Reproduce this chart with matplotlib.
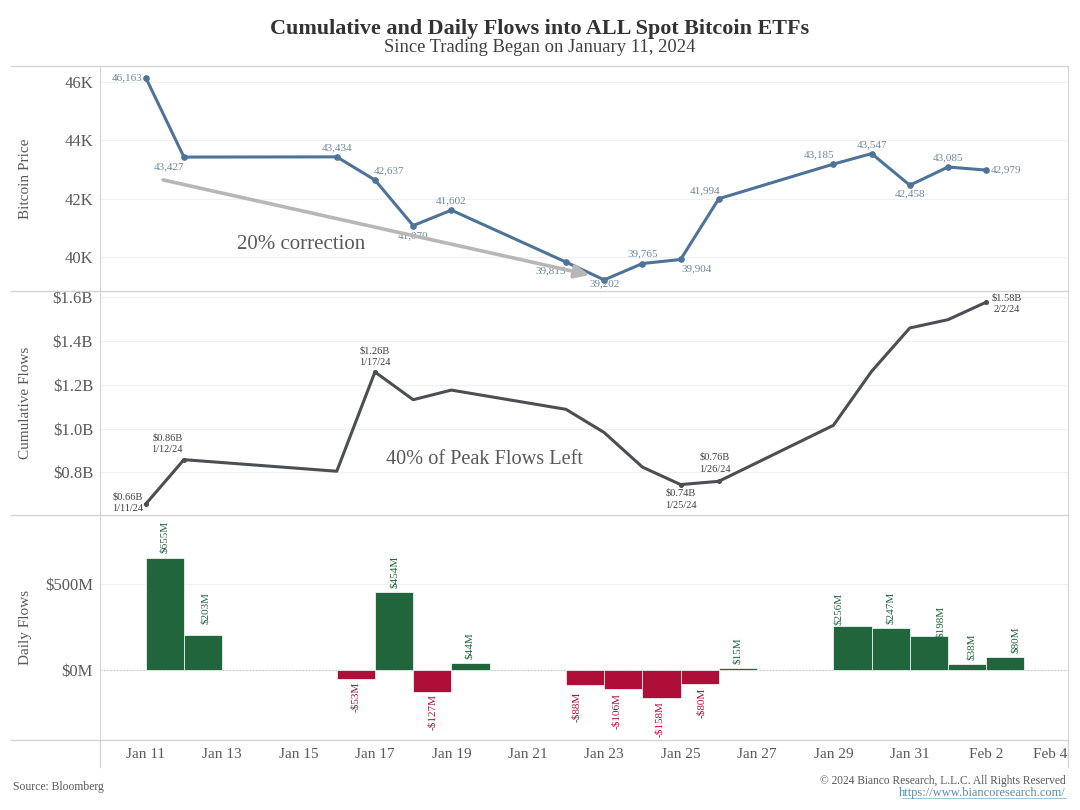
import pandas as pd
import matplotlib
matplotlib.use("Agg")
import matplotlib.pyplot as plt
import matplotlib.dates as mdates
from matplotlib.transforms import ScaledTranslation, blended_transform_factory

plt.rcParams['font.family'] = ['Liberation Serif', 'DejaVu Serif']

dates = ["2024-01-11", "2024-01-12", "2024-01-16", "2024-01-17", "2024-01-18", "2024-01-19",
         "2024-01-22", "2024-01-23", "2024-01-24", "2024-01-25", "2024-01-26",
         "2024-01-29", "2024-01-30", "2024-01-31", "2024-02-01", "2024-02-02"]
price = [46163, 43427, 43434, 42637, 41070, 41602, 39815, 39202, 39765, 39904, 41994,
         43185, 43547, 42458, 43085, 42979]
cumulative = [0.655, 0.858, 0.805, 1.259, 1.132, 1.176, 1.088, 0.982, 0.824, 0.744, 0.759,
              1.015, 1.262, 1.460, 1.498, 1.578]
daily = [655, 203, -53, 454, -127, 44, -88, -106, -158, -80, 15, 256, 247, 198, 38, 80]

price_ticks = [40000, 42000, 44000, 46000]
price_ticklabels = ["40K", "42K", "44K", "46K"]
cum_ticks = [0.8, 1.0, 1.2, 1.4, 1.6]
cum_ticklabels = ["$0.8B", "$1.0B", "$1.2B", "$1.4B", "$1.6B"]
daily_ticks = [0, 500]
daily_ticklabels = ["$0M", "$500M"]
x_tick_dates = ["2024-01-11", "2024-01-13", "2024-01-15", "2024-01-17", "2024-01-19", "2024-01-21",
                "2024-01-23", "2024-01-25", "2024-01-27", "2024-01-29", "2024-01-31",
                "2024-02-02", "2024-02-04"]
x_ticklabels = ["Jan 11", "Jan 13", "Jan 15", "Jan 17", "Jan 19", "Jan 21", "Jan 23", "Jan 25",
                "Jan 27", "Jan 29", "Jan 31", "Feb 2", "Feb 4"]

# label offsets in points, (dx, dy) from the point
price_offsets = [(-13.5, 0), (-11, -7), (0, 6.5), (10, 7), (0, -7), (0, 7), (-11, -6.5), (0, -3),
                 (0, 7), (11.5, -7), (-10, 6), (-10.5, 6.5), (0, 6), (0, -6.5), (0, 7), (14.5, 0)]
cum_labels = {"2024-01-11": ("$0.66B", "1/11/24", -13, 1), "2024-01-12": ("$0.86B", "1/12/24", -12, 11.5),
              "2024-01-17": ("$1.26B", "1/17/24", 0, 11), "2024-01-25": ("$0.74B", "1/25/24", 0, -10.5),
              "2024-01-26": ("$0.76B", "1/26/24", -3, 13), "2024-02-02": ("$1.58B", "2/2/24", 14.5, -1)}
daily_dx = [0, 2, 0, 0, 0, -1, -6, -5, -1.5, 1.5, -0.5, -10, 0, 8, 3, 7]
daily_gap = [3.4, 8, 1.4, 2.7, 1.4, 2.7, 4.3, 3.4, 2.9, 2.7, 2.4, 0.7, 2.9, -1, 2.9, 2.4]

x = pd.to_datetime(dates)
xt = pd.to_datetime(x_tick_dates)
W, H = 1080, 810
BLUE = "#4e7399"
DARK = "#4b4f54"
GREEN = "#21653c"
RED = "#ad0f38"
TXT = "#595959"
LINE = "#d4d4d4"
GRID = "#f0f0f0"


def panel(top, bottom):
    return [100 / W, 1 - bottom / H, (1068 - 100) / W, (bottom - top) / H]


fig = plt.figure(figsize=(W / 100, H / 100), dpi=100)
ax1 = fig.add_axes(panel(66, 291))
ax2 = fig.add_axes(panel(291, 515), sharex=ax1)
ax3 = fig.add_axes(panel(515, 740), sharex=ax1)

for ax, ticks, labels, name in [(ax1, price_ticks, price_ticklabels, "Bitcoin Price"),
                                (ax2, cum_ticks, cum_ticklabels, "Cumulative Flows"),
                                (ax3, daily_ticks, daily_ticklabels, "Daily Flows")]:
    ax.set_yticks(ticks)
    ax.set_yticklabels(labels, fontsize=12, color=TXT)
    ax.tick_params(axis='y', length=0, pad=5)
    ax.grid(axis='y', color=GRID, lw=0.8)
    ax.set_axisbelow(True)
    for s in ax.spines.values():
        s.set_visible(False)
    ax.spines['left'].set_visible(True)
    ax.spines['left'].set_color(LINE)
    ax.spines['right'].set_visible(True)
    ax.spines['right'].set_color(LINE)
    ax.text(26 / W, 0.5, name, transform=blended_transform_factory(fig.transFigure, ax.transAxes),
            rotation=90, ha='center', va='center', fontsize=11, color=TXT)

# price panel
ax1.plot(x, price, color=BLUE, lw=2.2, marker='o', ms=3.8)
ax1.set_ylim(38820, 46560)
for d, v, off in zip(x, price, price_offsets):
    ax1.annotate(f"{v:,}", (d, v), xytext=off, textcoords='offset points', ha='center', va='center',
                 fontsize=8, color="#6f87a0")
ax1.annotate("", xy=(pd.Timestamp("2024-01-22 15:00"), 39370),
             xytext=(pd.Timestamp("2024-01-11 11:00"), 42640),
             arrowprops=dict(arrowstyle="-|>,head_length=0.9,head_width=0.4", color="#b8b6b6", lw=2.6,
                             shrinkA=0, shrinkB=0))
ax1.text(pd.Timestamp("2024-01-15 01:30"), 40430, "20% correction", fontsize=15, color=TXT, ha='center', va='center')

# cumulative panel
marked = [i for i, d in enumerate(x) if d.strftime("%Y-%m-%d") in cum_labels]
ax2.plot(x, cumulative, color=DARK, lw=2.2, marker='o', ms=2.6, markevery=marked)
ax2.set_ylim(0.605, 1.629)
for d, v in zip(x, cumulative):
    key = d.strftime("%Y-%m-%d")
    if key in cum_labels:
        top, sub, dx, dy = cum_labels[key]
        ax2.annotate(f"{top}\n{sub}", (d, v), xytext=(dx, dy), textcoords='offset points', ha='center',
                     va='center', fontsize=7.5, color="#404040", linespacing=1.4)
ax2.text(pd.Timestamp("2024-01-19 20:30"), 0.857, "40% of Peak Flows Left", fontsize=14.6, color=TXT,
         ha='center', va='center')

# daily panel
colors = [GREEN if v >= 0 else RED for v in daily]
ax3.axhline(0, color="#c8c8c8", lw=0.9, ls=':', zorder=1)
ax3.bar(x, daily, width=1, align='edge', color=colors, edgecolor='white', linewidth=0.5, zorder=2)
ax3.set_ylim(-405, 903)
for d, v, c, dx, gap in zip(x, daily, colors, daily_dx, daily_gap):
    label = f"${v}M" if v >= 0 else f"-${-v}M"
    ax3.annotate(label, (d + pd.Timedelta(hours=12), v), xytext=(dx, gap if v >= 0 else -gap),
                 textcoords='offset points', rotation=90, ha='center', va='bottom' if v >= 0 else 'top',
                 fontsize=8, color=c)

day0 = mdates.date2num(pd.Timestamp("2024-01-11"))
ax1.set_xlim(day0 - 1.197, day0 + 24.14)
ax3.set_xticks(xt)
ax3.set_xticklabels(x_ticklabels, fontsize=11, color=TXT)
ax3.tick_params(axis='x', length=0, pad=6)
ax1.tick_params(axis='x', labelbottom=False, length=0)
ax2.tick_params(axis='x', labelbottom=False, length=0)
last = ax3.get_xticklabels()[-1]
last.set_horizontalalignment('right')
last.set_transform(last.get_transform() + ScaledTranslation(0.05, 0, fig.dpi_scale_trans))

# frame lines
for y in [66, 291, 515, 740]:
    fig.add_artist(plt.Line2D([11 / W, 1068 / W], [1 - y / H, 1 - y / H], color=LINE, lw=1))
for xp in [100, 1068]:
    fig.add_artist(plt.Line2D([xp / W, xp / W], [1 - 740 / H, 1 - 767 / H], color=LINE, lw=1))

fig.text(540 / W, 1 - 29 / H, "Cumulative and Daily Flows into ALL Spot Bitcoin ETFs", fontsize=15.9,
         fontweight='bold', color="#333333", ha='center', va='center')
fig.text(540 / W, 1 - 48 / H, "Since Trading Began on January 11, 2024", fontsize=13.4, color="#404040",
         ha='center', va='center')
fig.text(13 / W, 1 - 787 / H, "Source: Bloomberg", fontsize=8.4, color=TXT, ha='left', va='center')
fig.text(1066 / W, 1 - 781 / H, "© 2024 Bianco Research, L.L.C. All Rights Reserved", fontsize=8.3, color=TXT,
         ha='right', va='center')
fig.text(1066 / W, 1 - 793 / H, "https://www.biancoresearch.com/", fontsize=8.9, color="#4f8fa8", ha='right',
         va='center', url="https://www.biancoresearch.com/")
fig.add_artist(plt.Line2D([902 / W, 1066 / W], [1 - 798 / H, 1 - 798 / H], color="#9fc4d4", lw=0.7))

fig.savefig("out.png", dpi=100, facecolor='white')
